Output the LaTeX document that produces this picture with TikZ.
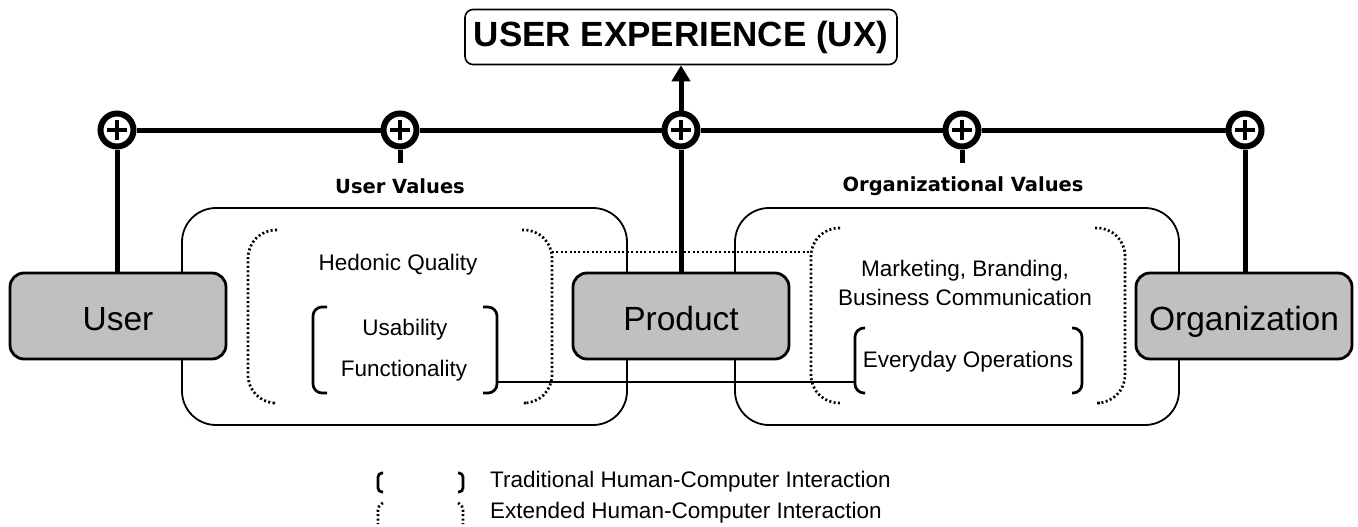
\documentclass[tikz,border=0pt]{standalone}
\usepackage{fontspec}
\setmainfont{Liberation Sans}
\newfontfamily\tahfont{DejaVu Sans}
\usetikzlibrary{arrows.meta}
\definecolor{boxgray}{HTML}{C0C0C0}
\begin{document}
\begin{tikzpicture}[x=1pt,y=-1pt,
  thickline/.style={line width=5pt},
  thinline/.style={line width=1.9pt},
  bracketline/.style={line width=2.7pt,rounded corners=9pt},
  dotline/.style={line width=2.7pt,dash pattern=on 2pt off 2.4pt},
  valbox/.style={draw,line width=1.8pt,rounded corners=34pt},
  graybox/.style={draw,line width=2.8pt,fill=boxgray,rounded corners=14pt,
    minimum width=216pt,minimum height=86pt,inner sep=0pt,
    text height=28pt,text depth=0pt,
    font=\fontsize{33.5}{36}\selectfont},
  pluscirc/.style={circle,draw,line width=6pt,fill=white,minimum size=33pt,inner sep=0pt,
    path picture={\draw[line width=3.4pt] (path picture bounding box.center) ++(-10,0) -- ++(20,0)
      (path picture bounding box.center) ++(0,-10) -- ++(0,20);}},
  normtext/.style={font=\fontsize{22.5}{29}\selectfont,align=center,inner sep=0pt},
  valtext/.style={font=\tahfont\bfseries\fontsize{19.5}{22}\selectfont,inner sep=0pt}
]
\useasboundingbox (0,0) rectangle (1358,527);

% value boxes
\draw[valbox] (182,208) rectangle (627,425);
\node[valtext] (uvl) at (400,186) {User Values};
\draw[valbox] (735,208) rectangle (1179,425);
\node[valtext] (ovl) at (963,186) {Organizational Values};

% dotted brackets (extended HCI)
\draw[dotline,rounded corners=28pt] (277,230) -- (248,230) -- (248,403) -- (272,403);
\draw[dotline,rounded corners=28pt] (522,230) -- (552,230) -- (552,403) -- (527,403);
\draw[dotline,rounded corners=28pt] (840,228) -- (811,228) -- (811,403) -- (840,403);
\draw[dotline,rounded corners=28pt] (1095,228) -- (1125,228) -- (1125,403) -- (1100,403);
\coordinate (hqr) at (552,252);
\coordinate (mkl) at (811,252);
\draw[dotline] (hqr) -- (mkl);

% solid brackets (traditional HCI)
\draw[bracketline] (327,307) -- (313,307) -- (313,393) -- (327,393);
\draw[bracketline] (483,307) -- (497,307) -- (497,393) -- (483,393);
\draw[bracketline] (865,328) -- (855,328) -- (855,393) -- (865,393);
\draw[bracketline] (1072,328) -- (1082,328) -- (1082,393) -- (1072,393);
\coordinate (ubr) at (497,382);
\coordinate (ebl) at (855,382);
\draw[thinline] (ubr) -- (ebl);

% inner texts
\node[normtext] (hq) at (398,265) {Hedonic Quality};
\node[normtext] (usab) at (405,330) {Usability};
\node[normtext] (func) at (404,371) {Functionality};
\node[normtext] (mkt) at (965,283) {Marketing, Branding,\\Business Communication};
\node[normtext] (evd) at (968,362) {Everyday Operations};

% gray boxes
\node[graybox] (user) at (118,316) {User};
\node[graybox] (product) at (681,316) {Product};
\node[graybox] (org) at (1244,316) {Organization};

% UX box
\node[draw,line width=1.6pt,rounded corners=8pt,minimum width=432pt,minimum height=55pt,inner sep=0pt,
  font=\bfseries\fontsize{35}{37}\selectfont] (ux) at (681,37) {USER EXPERIENCE (UX)};

% plus circles
\node[pluscirc] (c1) at (117,130) {};
\node[pluscirc] (c2) at (400,130) {};
\node[pluscirc] (c3) at (681,130) {};
\node[pluscirc] (c4) at (962,130) {};
\node[pluscirc] (c5) at (1245,130) {};
\coordinate (s2) at (400,163);
\coordinate (s4) at (962,163);

% connectors
\draw[thickline] (c1) -- (c2);
\draw[thickline] (c2) -- (c3);
\draw[thickline] (c3) -- (c4);
\draw[thickline] (c4) -- (c5);
\draw[thickline] (c2) -- (s2);
\draw[thickline] (c4) -- (s4);
\draw[thickline] (c1) -- (c1 |- user.north);
\draw[thickline] (c3) -- (product.north);
\draw[thickline] (c5) -- (c5 |- org.north);
\draw[line width=5pt,-{Triangle[width=18pt,length=16pt]}] (c3) -- (ux.south);

% legend
\draw[bracketline,rounded corners=4pt] (383,473) -- (378,473) -- (378,492) -- (383,492);
\draw[bracketline,rounded corners=4pt] (458,473) -- (463,473) -- (463,492) -- (458,492);
\draw[dotline,rounded corners=4pt] (383,503) -- (378,506) -- (378,524);
\draw[dotline,rounded corners=4pt] (458,503) -- (463,506) -- (463,524);
\node[normtext,anchor=west] (leg1) at (490,482) {Traditional Human-Computer Interaction};
\node[normtext,anchor=west] (leg2) at (490,513) {Extended Human-Computer Interaction};
\end{tikzpicture}
\end{document}
